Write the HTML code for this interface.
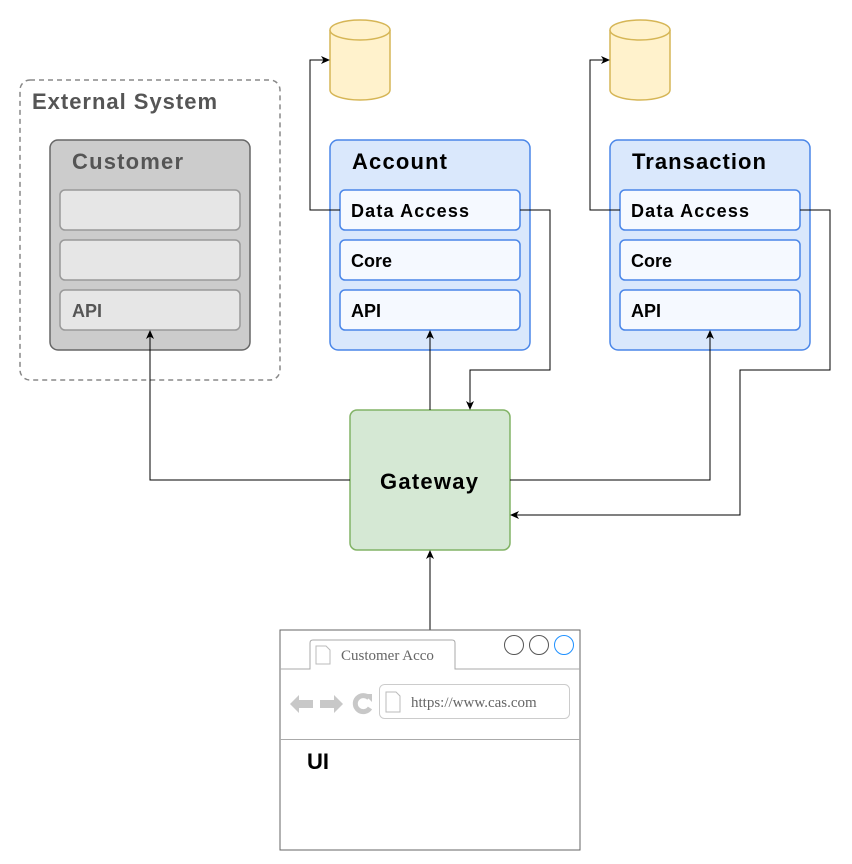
<!DOCTYPE html>
<html><head><style>body{margin:0;background:#fff}svg{display:block}</style></head><body>
<svg width="852" height="864" viewBox="0 0 852 864" xmlns="http://www.w3.org/2000/svg" font-family="Liberation Sans, Arial, sans-serif">
<defs><marker id="a" markerWidth="10" markerHeight="10" refX="8" refY="4.5" orient="auto" markerUnits="userSpaceOnUse"><path d="M0,0.5 L9,4.5 L0,8.5 L2.5,4.5 Z" fill="#000"/></marker></defs>
<rect x="20" y="80" width="260" height="300" rx="10" fill="#fff" stroke="#888" stroke-width="1.5" stroke-dasharray="5,4"/>
<text x="32" y="109" font-size="22" font-weight="bold" fill="#555" textLength="185">External System</text>
<rect x="50" y="140" width="200" height="210" rx="8" fill="#cccccc" stroke="#666" stroke-width="1.5"/>
<text x="72" y="169" font-size="22" font-weight="bold" fill="#555" textLength="111">Customer</text>
<rect x="60" y="190" width="180" height="40" rx="5" fill="#e6e6e6" stroke="#999" stroke-width="1.5"/>
<rect x="60" y="240" width="180" height="40" rx="5" fill="#e6e6e6" stroke="#999" stroke-width="1.5"/>
<rect x="60" y="290" width="180" height="40" rx="5" fill="#e6e6e6" stroke="#999" stroke-width="1.5"/>
<text x="72" y="317" font-size="18" font-weight="bold" fill="#555">API</text>
<g>
<rect x="330" y="140" width="200" height="210" rx="8" fill="#dae8fc" stroke="#4a86e8" stroke-width="1.5"/>
<text x="352" y="169" font-size="22" font-weight="bold" textLength="95">Account</text>
<rect x="340" y="190" width="180" height="40" rx="5" fill="#f5f9ff" stroke="#4a86e8" stroke-width="1.5"/>
<text x="351" y="217" font-size="18" font-weight="bold" textLength="118">Data Access</text>
<rect x="340" y="240" width="180" height="40" rx="5" fill="#f5f9ff" stroke="#4a86e8" stroke-width="1.5"/>
<text x="351" y="267" font-size="18" font-weight="bold">Core</text>
<rect x="340" y="290" width="180" height="40" rx="5" fill="#f5f9ff" stroke="#4a86e8" stroke-width="1.5"/>
<text x="351" y="317" font-size="18" font-weight="bold">API</text>
</g>
<g transform="translate(280,0)">
<rect x="330" y="140" width="200" height="210" rx="8" fill="#dae8fc" stroke="#4a86e8" stroke-width="1.5"/>
<text x="352" y="169" font-size="22" font-weight="bold" textLength="134">Transaction</text>
<rect x="340" y="190" width="180" height="40" rx="5" fill="#f5f9ff" stroke="#4a86e8" stroke-width="1.5"/>
<text x="351" y="217" font-size="18" font-weight="bold" textLength="118">Data Access</text>
<rect x="340" y="240" width="180" height="40" rx="5" fill="#f5f9ff" stroke="#4a86e8" stroke-width="1.5"/>
<text x="351" y="267" font-size="18" font-weight="bold">Core</text>
<rect x="340" y="290" width="180" height="40" rx="5" fill="#f5f9ff" stroke="#4a86e8" stroke-width="1.5"/>
<text x="351" y="317" font-size="18" font-weight="bold">API</text>
</g>
<g fill="#fff2cc" stroke="#d6b656" stroke-width="1.5">
<path d="M330,30 L330,90 A30,10 0 0 0 390,90 L390,30"/><ellipse cx="360" cy="30" rx="30" ry="10"/>
<path d="M610,30 L610,90 A30,10 0 0 0 670,90 L670,30"/><ellipse cx="640" cy="30" rx="30" ry="10"/>
</g>
<rect x="350" y="410" width="160" height="140" rx="7" fill="#d5e8d4" stroke="#82b366" stroke-width="1.5"/>
<text x="429" y="489" font-size="22" font-weight="bold" text-anchor="middle" textLength="98">Gateway</text>
<g fill="none" stroke="#000" stroke-width="1" marker-end="url(#a)">
<path d="M340,210 H310 V60 H329"/>
<path d="M620,210 H590 V60 H609"/>
<path d="M520,210 H550 V370 H470 V409"/>
<path d="M430,410 V331"/>
<path d="M350,480 H150 V331"/>
<path d="M510,480 H710 V331"/>
<path d="M800,210 H830 V370 H740 V515 H511"/>
<path d="M430,630 V551"/>
</g>
<rect x="280" y="630" width="300" height="220" fill="#fff" stroke="#666" stroke-width="1"/>
<path d="M280,669 H310 V643 Q310,640 313,640 H452 Q455,640 455,643 V669 H580" fill="none" stroke="#aaa"/>
<line x1="280" y1="739.5" x2="580" y2="739.5" stroke="#aaa"/>
<path d="M316,646 h10 l4,4 v14 h-14 z" fill="#fff" stroke="#bbb"/>
<text x="341" y="660" font-size="15" fill="#666" font-family="Liberation Serif, serif">Customer Acco</text>
<circle cx="514" cy="645" r="9.5" fill="#fff" stroke="#555"/>
<circle cx="539" cy="645" r="9.5" fill="#fff" stroke="#555"/>
<circle cx="564" cy="645" r="9.5" fill="#fff" stroke="#1e90ff"/>
<path d="M290,704 l9,-9 v5 h14 v8 h-14 v5 z" fill="#c8c8c8"/>
<path d="M343,704 l-9,-9 v5 h-14 v8 h14 v5 z" fill="#c8c8c8"/>
<path d="M369,698 A8,8 0 1 0 370,708" fill="none" stroke="#c8c8c8" stroke-width="5"/>
<path d="M364,694 l8,0 l0,8 z" fill="#c8c8c8"/>
<rect x="379.5" y="684.5" width="190" height="34" rx="5" fill="#fff" stroke="#ccc"/>
<path d="M386,692 h10 l4,4 v16 h-14 z" fill="#fff" stroke="#bbb"/>
<text x="411" y="707" font-size="15" fill="#666" font-family="Liberation Serif, serif">https://www.cas.com</text>
<text x="307" y="769" font-size="22" font-weight="bold">UI</text>
</svg>
</body></html>
